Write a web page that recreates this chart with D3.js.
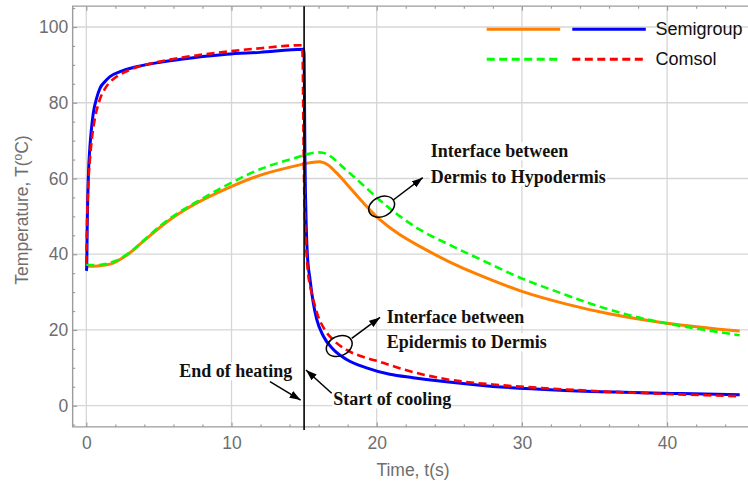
<!DOCTYPE html>
<html><head><meta charset="utf-8">
<script src="https://cdn.jsdelivr.net/npm/d3@7"></script>
<style>body{margin:0;background:#fff}svg{display:block}</style>
</head><body><svg id="c" width="748" height="483"></svg>
<script>
// ---- data (time in s, temperature in °C) ----
const tSemiEpi = [0,0.025,0.07,0.14,0.25,0.37,0.48,0.71,0.94,1.29,1.63,2.32,3.24,5.08,7.37,9.67,11.96,14.95,15.0,15.03,15.06,15.1,15.15,15.22,15.41,15.63,15.87,16.32,17.0,17.93,19.3,20.9,22.5,24.8,28,32.6,37,41,45];
const semigroupEpi = [35.6,36.3,49.0,60.5,68.4,73.7,77.2,81.2,83.8,85.6,86.9,88.2,89.3,90.7,91.9,92.8,93.3,94.1,93,80,65,55,47,40.3,33.3,27.2,22.8,18.4,14.9,12.2,10.0,8.3,7.4,6.3,5.1,4.1,3.55,3.2,2.9];
const tComsolEpi = [0,0.05,0.12,0.25,0.4,0.6,0.9,1.3,1.7,2.3,3.2,5.1,7.4,9.7,12,14.85,14.9,14.94,14.98,15.03,15.09,15.17,15.26,15.45,15.7,15.95,16.4,17.0,17.9,19.3,20.2,22,24.8,28,31.7,36,40,45];
const comsolEpi = [37.5,48,57,65,71,76,80.5,83.8,85.7,87.4,89.0,90.9,92.4,93.5,94.4,95.2,92,78,64,53,46,40,35.5,31,27,23.8,20.2,17.4,14.8,12.6,11.6,9.4,7.0,5.6,4.6,3.7,3.1,2.5];
const tSemiDerm = [0,0.8,1.8,2.8,3.9,5.1,6.2,7.4,9.7,12,14.7,15.5,16.1,16.6,17.2,17.9,19,20.2,21.5,23,25,27,30,33,36,40,45];
const semigroupDerm = [36.8,36.9,37.6,39.8,43.3,47.2,50.3,53.1,57.4,60.9,63.6,64.2,64.4,63.7,61.6,58.7,53.9,49.2,45.4,42.0,38.0,34.6,30.2,26.9,24.3,21.8,19.7];
const tComsolDerm = [0,1,2,3,4,5.1,6.2,7.4,8.5,9.7,12,14.7,15.3,16,16.6,17.9,19,20.2,21.5,23,25,27,30,33,35,37.4,40,45];
const comsolDerm = [37.2,37.2,38.2,40.5,43.8,47.5,50.6,53.4,55.8,58.3,62.5,65.8,66.5,66.9,66.4,62.2,58.5,54.3,50.3,46.4,42.5,38.9,33.6,29.3,26.6,23.9,21.7,18.6];
const xMajor = [0,10,20,30,40];
const xMinor = [2,4,6,8,12,14,16,18,22,24,26,28,32,34,36,38,42,44];
const yMajor = [0,20,40,60,80,100];
const yMinor = [-5,5,10,15,25,30,35,45,50,55,65,70,75,85,90,95,105];
const legendLabels = ["Semigroup","Comsol"];

const svg = d3.select('#c');
const x = d3.scaleLinear().domain([0,45]).range([86.3,739.7]);
const y = d3.scaleLinear().domain([0,100]).range([405.7,27]);
const X0 = x(-0.94), XR = 748, YB = y(-5.6), YT = y(105.5);
const frameCol = '#9c9c9c', gridCol = '#d6d6d6', labCol = '#6e6e6e';
const sans = '"Liberation Sans", Arial, sans-serif';
const serif = '"Liberation Serif", "Times New Roman", serif';

// grid
svg.append('g').selectAll('line').data(xMajor).join('line')
  .attr('x1', d=>x(d)).attr('x2', d=>x(d)).attr('y1', YT).attr('y2', YB)
  .attr('stroke', gridCol).attr('stroke-width', 1.3);
svg.append('g').selectAll('line').data(yMajor).join('line')
  .attr('x1', X0).attr('x2', XR).attr('y1', d=>y(d)).attr('y2', d=>y(d))
  .attr('stroke', gridCol).attr('stroke-width', 1.3);

// axes
function styleAxis(g){ g.select('.domain').remove(); g.selectAll('.tick line').attr('stroke', frameCol).attr('stroke-width',1.2); }
const gxb = svg.append('g').attr('transform',`translate(0,${YB})`)
  .call(d3.axisBottom(x).tickValues(xMajor).tickSizeInner(-4.5).tickSizeOuter(0).tickPadding(0)).call(styleAxis);
gxb.selectAll('text').attr('y', 21.7).attr('dy', null).attr('fill', labCol)
  .attr('font-family', sans).attr('font-size', 17.5);
svg.append('g').attr('transform',`translate(0,${YB})`)
  .call(d3.axisBottom(x).tickValues(xMinor).tickSizeInner(-2.5).tickSizeOuter(0).tickFormat('')).call(styleAxis);
svg.append('g').attr('transform',`translate(0,${YT})`)
  .call(d3.axisTop(x).tickValues(xMajor).tickSizeInner(-4.5).tickSizeOuter(0).tickFormat('')).call(styleAxis);
svg.append('g').attr('transform',`translate(0,${YT})`)
  .call(d3.axisTop(x).tickValues(xMinor).tickSizeInner(-2.5).tickSizeOuter(0).tickFormat('')).call(styleAxis);
const gyl = svg.append('g').attr('transform',`translate(${X0},0)`)
  .call(d3.axisLeft(y).tickValues(yMajor).tickSizeInner(-4.5).tickSizeOuter(0).tickPadding(4.5)).call(styleAxis);
gyl.selectAll('text').attr('fill', labCol).attr('font-family', sans).attr('font-size', 17.5);
svg.append('g').attr('transform',`translate(${X0},0)`)
  .call(d3.axisLeft(y).tickValues(yMinor).tickSizeInner(-2.5).tickSizeOuter(0).tickFormat('')).call(styleAxis);

// frame
svg.append('path').attr('d', `M${XR},${YT}H${X0}V${YB}H${XR}`).attr('fill','none')
  .attr('stroke', frameCol).attr('stroke-width', 1.4);

// axis titles
svg.append('text').attr('x', 413).attr('y', 476).attr('text-anchor','middle')
  .attr('font-family', sans).attr('font-size', 17.5).attr('fill', labCol).text('Time, t(s)');
const yt = svg.append('text').attr('transform','translate(27.8,210) rotate(-90)').attr('text-anchor','middle')
  .attr('font-family', sans).attr('font-size', 17.5).attr('fill', labCol);
yt.append('tspan').text('Temperature, T(');
yt.append('tspan').attr('font-size', 12).attr('dy', -6).text('o');
yt.append('tspan').attr('dy', 6).text('C)');

// clip
svg.append('clipPath').attr('id','pc').append('rect')
  .attr('x', X0).attr('y', YT).attr('width', XR-X0).attr('height', YB-YT);

const lineMono = d3.line().x(d=>x(d[0])).y(d=>y(d[1])).curve(d3.curveMonotoneX);
const lineSmooth = d3.line().x(d=>x(d[0])).y(d=>y(d[1])).curve(d3.curveCatmullRom.alpha(0.5));
const zip = (t,v)=>t.map((d,i)=>[d,v[i]]);
const series = [
  {t:tSemiDerm, v:semigroupDerm, c:'#ff8000', w:3, dash:null, gen:lineSmooth},
  {t:tSemiEpi, v:semigroupEpi, c:'#0000ff', w:3, dash:null, gen:lineMono},
  {t:tComsolDerm, v:comsolDerm, c:'#00ff00', w:2.6, dash:'8,4.5', gen:lineSmooth},
  {t:tComsolEpi, v:comsolEpi, c:'#ff0000', w:2.6, dash:'8,4.5', gen:lineMono}
];
const gl = svg.append('g').attr('clip-path','url(#pc)');
series.forEach(s=>{
  gl.append('path').attr('d', s.gen(zip(s.t,s.v))).attr('fill','none')
    .attr('stroke', s.c).attr('stroke-width', s.w).attr('stroke-dasharray', s.dash)
    .attr('stroke-linejoin','round');
});

// vertical line at end of heating
svg.append('line').attr('x1', x(15)).attr('x2', x(15)).attr('y1', YT).attr('y2', YB+3)
  .attr('stroke','#000').attr('stroke-width',1.6);

// legend
const lg = svg.append('g');
[[0,'#ff8000',null],[1,'#0000ff',null],[2,'#00ff00','8,4.5'],[3,'#ff0000','8,4.5']].forEach(([i,c,d])=>{
  const col = i%2, row = Math.floor(i/2);
  lg.append('line').attr('x1', 486.7+col*85.6).attr('x2', 486.7+col*85.6+73.5)
    .attr('y1', 29.3+row*30).attr('y2', 29.3+row*30)
    .attr('stroke', c).attr('stroke-width', 3).attr('stroke-dasharray', d);
});
legendLabels.forEach((l,i)=>{
  lg.append('text').attr('x', 655.5).attr('y', 35.3+i*30).attr('font-family', sans)
    .attr('font-size', 18).attr('fill','#111').text(l);
});

// annotations
svg.append('defs').append('marker').attr('id','ah').attr('viewBox','0 0 10 7')
  .attr('refX',10).attr('refY',3.5).attr('markerWidth',11).attr('markerHeight',7.7)
  .attr('markerUnits','userSpaceOnUse').attr('orient','auto')
  .append('path').attr('d','M0,0L10,3.5L0,7z').attr('fill','#000');
const ann = svg.append('g');
function arrow(t1,v1,t2,v2){
  ann.append('line').attr('x1',x(t1)).attr('y1',y(v1)).attr('x2',x(t2)).attr('y2',y(v2))
    .attr('stroke','#000').attr('stroke-width',1.5).attr('marker-end','url(#ah)');
}
function label(t,v,txt){
  const g = ann.append('g');
  const tx = g.append('text').attr('x',x(t)).attr('y',y(v)).attr('font-family',serif)
    .attr('font-weight','bold').attr('font-size',18).attr('fill','#111').text(txt);
  const b = tx.node().getBBox();
  g.insert('rect','text').attr('x',b.x-1).attr('y',b.y+1).attr('width',b.width+2).attr('height',b.height-2).attr('fill','#fff');
}
function ell(t,v){
  ann.append('ellipse').attr('transform',`translate(${x(t)},${y(v)}) rotate(-25)`)
    .attr('rx',13.5).attr('ry',9.8).attr('fill','none').attr('stroke','#000').attr('stroke-width',1.5);
}
label(6.40,7.50,'End of heating');
arrow(12.65,6.34,14.76,1.5);
label(17.01,0.1,'Start of cooling');
arrow(16.90,3.27,15.13,9.43);
label(20.69,21.92,'Interface between');
label(20.69,15.16,'Epidermis to Dermis');
ell(17.42,15.76);
arrow(18.28,17.80,20.23,23.3);
label(23.72,65.59,'Interface between');
label(23.72,58.89,'Dermis to Hypodermis');
ell(20.34,52.55);
arrow(21.14,54.32,23.17,60.2);
</script></body></html>
